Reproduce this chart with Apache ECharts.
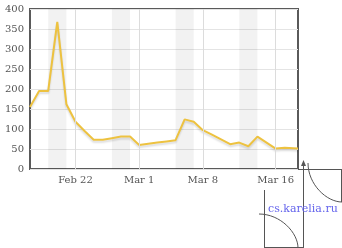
<!DOCTYPE html>
<html>
<head>
<meta charset="UTF-8">
<title>chart</title>
<script src="https://cdn.jsdelivr.net/npm/echarts@6/dist/echarts.min.js"></script>
<style>
  html, body { margin: 0; padding: 0; background: #fff; }
  #chart { width: 342px; height: 248px; }
</style>
</head>
<body>
<div id="chart"></div>
<script>
// daily values, last point is a partial day
var dates = ['2015-02-17','2015-02-18','2015-02-19','2015-02-20','2015-02-21','2015-02-22',
             '2015-02-23','2015-02-24','2015-02-25','2015-02-26','2015-02-27','2015-02-28',
             '2015-03-01','2015-03-02','2015-03-03','2015-03-04','2015-03-05','2015-03-06',
             '2015-03-07','2015-03-08','2015-03-09','2015-03-10','2015-03-11','2015-03-12',
             '2015-03-13','2015-03-14','2015-03-15','2015-03-16','2015-03-17','2015-03-18T11:00'];
var values = [155, 195, 195, 368, 162, 118, 95, 73, 73, 77, 81, 81,
              60, 63, 66, 69, 72, 124, 118, 97, 86, 74, 62, 66,
              57, 81, 66, 51, 53, 51];

var tickDates = ['2015-02-22', '2015-03-01', '2015-03-08', '2015-03-16'];
var tickLabels = ['Feb 22', 'Mar 1', 'Mar 8', 'Mar 16'];

// shaded bands [from, to]
var bands = [['2015-02-19', '2015-02-21'], ['2015-02-26', '2015-02-28'],
             ['2015-03-05', '2015-03-07'], ['2015-03-12', '2015-03-14']];

function ts(s) {
    return Date.parse(s.length > 10 ? s + 'Z' : s + 'T00:00:00Z');
}

var DAY = 86400000;
var labelMap = {};
tickDates.forEach(function (d, i) { labelMap[ts(d)] = tickLabels[i]; });

var myChart = echarts.init(document.getElementById('chart'));

var lineColor = '#555';
var font = 'DejaVu Serif';

option = {
    animation: false,
    grid: {
        left: 30, right: 44, top: 9, bottom: 79,
        show: true,
        borderColor: '#5a5a5a',
        borderWidth: 2
    },
    xAxis: {
        type: 'value',
        min: ts(dates[0]),
        max: ts(dates[dates.length - 1]),
        interval: DAY,
        axisLine: { show: false },
        axisTick: { show: false },
        splitLine: { show: false },
        axisLabel: {
            margin: 6,
            color: '#545454',
            fontFamily: font,
            fontSize: 10,
            showMinLabel: false,
            showMaxLabel: false,
            formatter: function (v) { return labelMap[v] || ''; }
        }
    },
    yAxis: {
        type: 'value',
        min: 0,
        max: 400,
        interval: 50,
        axisLine: { show: false },
        axisTick: { show: false },
        splitLine: { lineStyle: { color: '#e4e4e4', width: 1 } },
        axisLabel: {
            margin: 6,
            color: '#545454',
            fontFamily: font,
            fontSize: 10
        }
    },
    series: [{
        type: 'line',
        showSymbol: false,
        data: dates.map(function (d, i) { return [ts(d), values[i]]; }),
        lineStyle: {
            color: '#edc240',
            width: 2,
            shadowColor: 'rgba(0,0,0,0.15)',
            shadowBlur: 2,
            shadowOffsetY: 2
        },
        itemStyle: { color: '#edc240' },
        markArea: {
            silent: true,
            itemStyle: { color: 'rgba(0,0,0,0.05)' },
            data: bands.map(function (b) {
                return [{ xAxis: ts(b[0]) }, { xAxis: ts(b[1]) }];
            })
        },
        markLine: {
            silent: true,
            symbol: ['none', 'none'],
            label: { show: false },
            lineStyle: { color: '#dcdcdc', type: 'solid', width: 1 },
            data: tickDates.map(function (d) { return { xAxis: ts(d) }; })
        }
    }],
    graphic: [
        // logo at the bottom right
        { type: 'line', shape: { x1: 298, y1: 169.5, x2: 342, y2: 169.5 }, style: { stroke: lineColor, lineWidth: 1 } },
        { type: 'line', shape: { x1: 341.5, y1: 170, x2: 341.5, y2: 202 }, style: { stroke: lineColor, lineWidth: 1 } },
        { type: 'line', shape: { x1: 264.5, y1: 190, x2: 264.5, y2: 248 }, style: { stroke: lineColor, lineWidth: 1 } },
        { type: 'line', shape: { x1: 264, y1: 247.5, x2: 304, y2: 247.5 }, style: { stroke: lineColor, lineWidth: 1 } },
        { type: 'line', shape: { x1: 303.5, y1: 248, x2: 303.5, y2: 165 }, style: { stroke: lineColor, lineWidth: 1 } },
        { type: 'polygon', shape: { points: [[301, 166], [303.5, 160], [306, 166]] }, style: { fill: lineColor } },
        { type: 'bezierCurve', shape: { x1: 308, y1: 163, cpx1: 308, cpy1: 184.5, cpx2: 326.7, cpy2: 202, x2: 342, y2: 202 },
          style: { stroke: lineColor, lineWidth: 1, fill: null } },
        { type: 'bezierCurve', shape: { x1: 259, y1: 214, cpx1: 280.5, cpy1: 214, cpx2: 298, cpy2: 232.7, x2: 298, y2: 248 },
          style: { stroke: lineColor, lineWidth: 1, fill: null } },
        { type: 'text', left: 268, top: 204,
          style: { text: 'cs.karelia.ru', fill: '#6464ec', font: '11px "DejaVu Serif"' } }
    ]
};
myChart.setOption(option);
</script>
</body>
</html>
